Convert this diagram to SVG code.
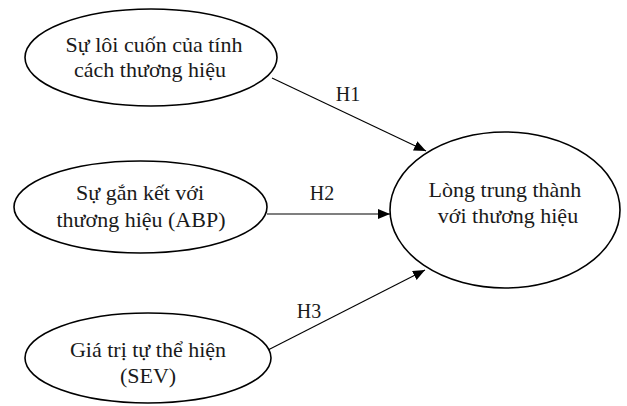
<svg xmlns="http://www.w3.org/2000/svg" width="627" height="406" viewBox="0 0 627 406">
<style>
.node ellipse{fill:#fff;stroke:#000;stroke-width:1.6}
text{font-family:'Liberation Serif','Times New Roman','DejaVu Serif',serif;font-size:22px;fill:#1a1a1a;text-anchor:middle}
.lbl{font-size:20px}
.conn line{stroke:#000;stroke-width:1.1;fill:none}
</style>
<defs>
<marker id="ah" markerUnits="userSpaceOnUse" markerWidth="13" markerHeight="11" refX="12" refY="5" orient="auto">
<path d="M0,0 L12,5 L0,10 z" fill="#000"/>
</marker>
</defs>
<g font-family="Liberation Serif, Times New Roman, serif">
<g id="n1" class="node">
<ellipse cx="151" cy="57.5" rx="126" ry="48.5"/>
<text x="154" y="52">Sự lôi cuốn của tính</text>
<text x="150" y="77">cách thương hiệu</text>
</g>
<g id="n2" class="node">
<ellipse cx="140.5" cy="207" rx="126.5" ry="46"/>
<text x="140" y="200">Sự gắn kết với</text>
<text x="141" y="227">thương hiệu (ABP)</text>
</g>
<g id="n3" class="node">
<ellipse cx="148" cy="358" rx="123" ry="45"/>
<text x="148" y="357">Giá trị tự thể hiện</text>
<text x="148" y="383">(SEV)</text>
</g>
<g id="n4" class="node">
<ellipse cx="505" cy="210" rx="115" ry="78"/>
<text x="505" y="197">Lòng trung thành</text>
<text x="508" y="223">với thương hiệu</text>
</g>
<g id="connectors" class="conn">
<line x1="272" y1="78" x2="426" y2="151" marker-end="url(#ah)"/>
<line x1="267" y1="214" x2="390" y2="214" marker-end="url(#ah)"/>
<line x1="268" y1="350" x2="425" y2="270" marker-end="url(#ah)"/>
<text class="lbl" x="348" y="101">H1</text>
<text class="lbl" x="322" y="200">H2</text>
<text class="lbl" x="309" y="318">H3</text>
</g>
</g>
</svg>
